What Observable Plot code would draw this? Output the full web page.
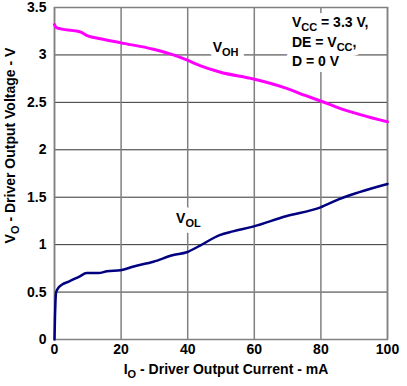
<!DOCTYPE html>
<html><head><meta charset="utf-8">
<script src="https://cdn.jsdelivr.net/npm/d3@7"></script>
<script src="https://cdn.jsdelivr.net/npm/@observablehq/plot@0.6"></script>
<style>html,body{margin:0;padding:0;background:#fff} svg{display:block}</style>
</head><body><div id="chart"></div>
<script>
// ---- data ----
const xTicks = [0, 20, 40, 60, 80, 100];
const yTicks = [0, 0.5, 1, 1.5, 2, 2.5, 3, 3.5];

const currentVOH = [0, 0.5, 1.9, 7.9, 10, 13.8, 20, 29.7, 35.7, 39.7, 43.7, 49.6, 59.8, 69.5, 75.5, 79.7, 85.5, 100];
const voltageVOH = [3.32, 3.29, 3.275, 3.24, 3.20, 3.17, 3.127, 3.06, 3.0, 2.947, 2.887, 2.82, 2.746, 2.65, 2.57, 2.517, 2.44, 2.295];

const currentVOL = [0, 0.15, 0.3, 0.5, 1.3, 2.3, 4.3, 7.3, 9.7, 13.2, 15.8, 19.8, 23.8, 29.7, 35.7, 39.7, 43.7, 49.6, 53.6, 59.6, 69.5, 79.7, 85.5, 100];
const voltageVOL = [0, 0.25, 0.41, 0.5, 0.55, 0.58, 0.61, 0.66, 0.70, 0.70, 0.72, 0.73, 0.77, 0.82, 0.89, 0.92, 0.99, 1.10, 1.14, 1.19, 1.30, 1.39, 1.48, 1.64];

const seriesNames = ["V_{OH}", "V_{OL}"];
const conditionLines = ["V_{CC} = 3.3 V,", "DE = V_{CC},", "D = 0 V"];
const xLabel = "I_{O} - Driver Output Current - mA";
const yLabel = "V_{O} - Driver Output Voltage - V";

// ---- tables ----
const voh = currentVOH.map((c, i) => ({current: c, voltage: voltageVOH[i]}));
const vol = currentVOL.map((c, i) => ({current: c, voltage: voltageVOL[i]}));
const seriesLabelData = [
  {name: seriesNames[0], current: 47.5, voltage: 3.027},
  {name: seriesNames[1], current: 36.5, voltage: 1.227}
];
const conditionData = conditionLines.map((t, i) => ({text: t, current: 71.3, voltage: [3.299, 3.088, 2.887][i]}));

const font = "'Liberation Sans', Arial, Helvetica, sans-serif";
const labelOpts = {textAnchor: "start", lineAnchor: "bottom", fontSize: 14};
const haloOpts = {fill: "white", stroke: "white", strokeWidth: 12, strokeLinejoin: "round"};

const chart = Plot.plot({
  width: 407,
  height: 386,
  marginLeft: 54,
  marginRight: 20,
  marginTop: 7,
  marginBottom: 47,
  style: {fontFamily: font, fontSize: "14px", fontWeight: "bold", color: "black", background: "white"},
  x: {domain: [0, 100], ticks: xTicks, tickSize: 0, tickPadding: 5, label: null, tickFormat: d => String(d)},
  y: {domain: [0, 3.5], ticks: yTicks, tickSize: 0, tickPadding: 8, label: null, tickFormat: d => String(d)},
  marks: [
    Plot.gridY(yTicks, {stroke: "#333", strokeOpacity: 1, strokeWidth: 1}),
    Plot.gridX(xTicks, {stroke: "#808080", strokeOpacity: 1, strokeWidth: 1.5}),
    Plot.frame({stroke: "#808080", strokeWidth: 1.5}),
    Plot.line(voh, {x: "current", y: "voltage", stroke: "#ff00ff", strokeWidth: 3, curve: "monotone-x"}),
    Plot.line(vol, {x: "current", y: "voltage", stroke: "#000080", strokeWidth: 2.5, curve: "monotone-x"}),
    // white backgrounds behind the in-plot labels
    Plot.text(seriesLabelData, {x: "current", y: "voltage", text: "name", ...labelOpts, ...haloOpts}),
    Plot.text(conditionData, {x: "current", y: "voltage", text: "text", ...labelOpts, ...haloOpts}),
    // the labels themselves
    Plot.text(seriesLabelData, {x: "current", y: "voltage", text: "name", ...labelOpts, fill: "black"}),
    Plot.text(conditionData, {x: "current", y: "voltage", text: "text", ...labelOpts, fill: "black"}),
    Plot.text([xLabel], {text: d => d, frameAnchor: "bottom", textAnchor: "middle", lineAnchor: "bottom", dy: 34, dx: 5, fontSize: 14, fill: "black"}),
    Plot.text([yLabel], {text: d => d, frameAnchor: "left", textAnchor: "middle", lineAnchor: "bottom", rotate: -90, dx: -40, dy: -28, fontSize: 14, fill: "black"})
  ]
});

// render "_{...}" as subscripts
d3.select(chart).selectAll("text").each(function () {
  const t = this.textContent;
  if (!t.includes("_{")) return;
  const parts = t.split(/(_\{[^}]*\})/).filter(p => p.length);
  const sel = d3.select(this);
  sel.text(null);
  let down = false;
  for (const p of parts) {
    if (p.startsWith("_{")) {
      sel.append("tspan").attr("dy", "4").attr("font-size", "11px").text(p.slice(2, -1));
      down = true;
    } else {
      const ts = sel.append("tspan").text(p);
      if (down) { ts.attr("dy", "-4"); down = false; }
    }
  }
});

document.getElementById("chart").appendChild(chart);
</script>
</body></html>
